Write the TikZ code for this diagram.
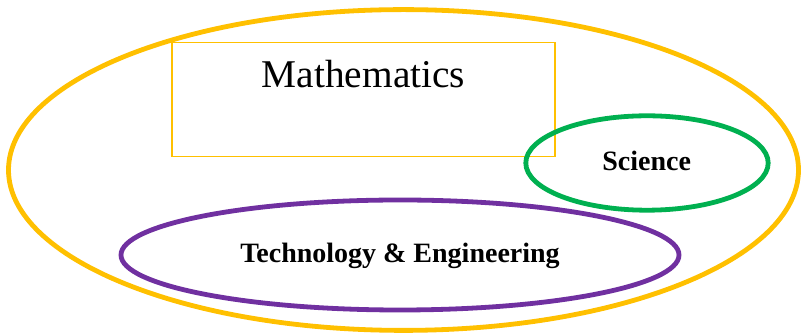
\documentclass[tikz,border=0pt]{standalone}
\usepackage{fontspec}
\setmainfont{Liberation Serif}
\usetikzlibrary{shapes.geometric}
\definecolor{gold}{HTML}{FFC000}
\definecolor{sgreen}{HTML}{00B050}
\definecolor{tpurple}{HTML}{7030A0}
\begin{document}
\begin{tikzpicture}[x=0.75pt,y=-0.75pt,
  ring/.style={draw, ellipse, line width=3.6pt, inner sep=0pt},
  lbl/.style={anchor=base, inner sep=0pt, font=\bfseries\fontsize{21}{25}\selectfont}]
\useasboundingbox[fill=white] (0,0) rectangle (801,334);
\node[ring, draw=gold, minimum width=592.5pt, minimum height=240.6pt] (stem) at (403.5,170) {};
\node[draw=gold, line width=1.1pt, minimum width=287.25pt, minimum height=85.5pt, inner sep=0pt] (mathbox) at (363.5,99.7) {};
\node[anchor=base, inner sep=0pt, font=\fontsize{29.5}{34}\selectfont] (math) at (363.5,88) {Mathematics};
\node[ring, draw=sgreen, minimum width=181.8pt, minimum height=70.8pt] (sci) at (647,163) {};
\node[ring, draw=tpurple, minimum width=418.5pt, minimum height=82.5pt] (tech) at (400,255) {};
\node[lbl] (scilbl) at (646.7,171) {Science};
\node[lbl] (techlbl) at (400,263) {Technology \& Engineering};
\end{tikzpicture}
\end{document}
